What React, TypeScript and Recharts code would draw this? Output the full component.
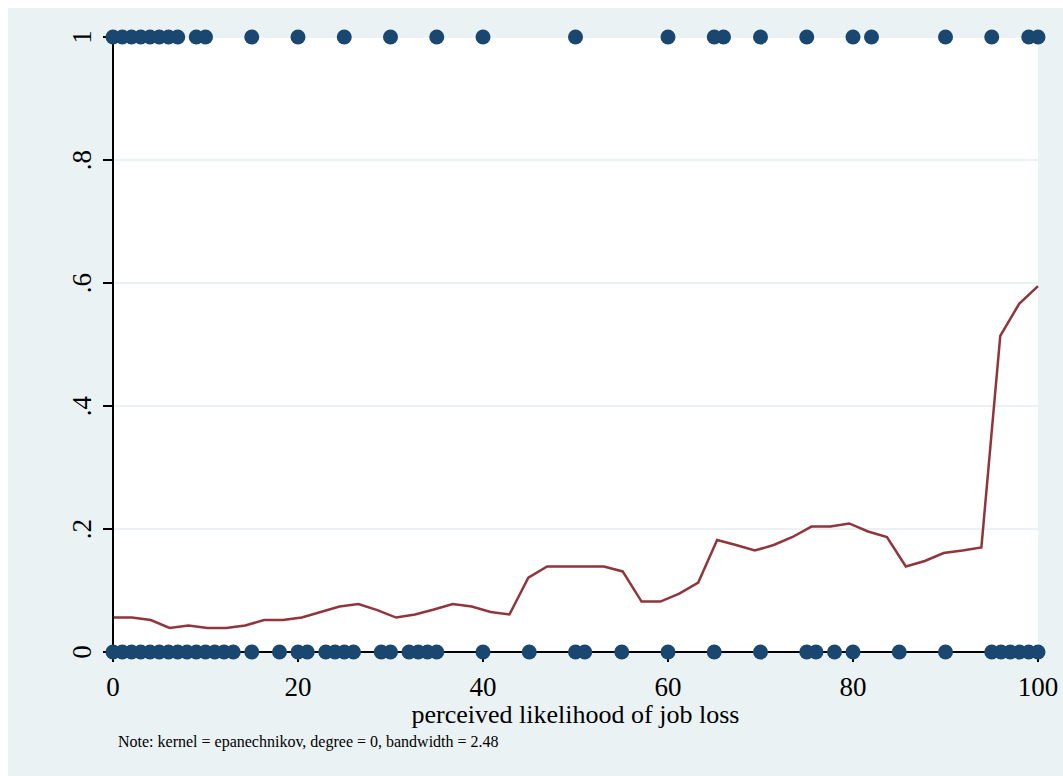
import React from "react";
import {
  ComposedChart,
  Line,
  Scatter,
  XAxis,
  YAxis,
  CartesianGrid,
  ReferenceLine,
} from "recharts";

// perceived likelihood values of respondents who lost their job (y = 1)
const lostJobX = [
  0, 1, 2, 3, 4, 5, 6, 7, 9, 10, 15, 20, 25, 30, 35, 40, 50, 60, 65, 66, 70,
  75, 80, 82, 90, 95, 99, 100,
];

// ... and of those who kept it (y = 0)
const keptJobX = [
  0, 1, 2, 3, 4, 5, 6, 7, 8, 9, 10, 11, 12, 13, 15, 18, 20, 21, 23, 24, 25,
  26, 29, 30, 32, 33, 34, 35, 40, 45, 50, 51, 55, 60, 65, 70, 75, 76, 78, 80,
  85, 90, 95, 96, 97, 98, 99, 100,
];

// lpoly grid points and smoothed values
const smoothX = [
  0, 2.04, 4.08, 6.12, 8.16, 10.2, 12.24, 14.29, 16.33, 18.37, 20.41, 22.45,
  24.49, 26.53, 28.57, 30.61, 32.65, 34.69, 36.73, 38.78, 40.82, 42.86, 44.9,
  46.94, 48.98, 51.02, 53.06, 55.1, 57.14, 59.18, 61.22, 63.27, 65.31, 67.35,
  69.39, 71.43, 73.47, 75.51, 77.55, 79.59, 81.63, 83.67, 85.71, 87.76, 89.8,
  91.84, 93.88, 95.92, 97.96, 100,
];
const smoothY = [
  0.056, 0.056, 0.052, 0.039, 0.043, 0.039, 0.039, 0.043, 0.052, 0.052,
  0.056, 0.065, 0.074, 0.078, 0.068, 0.056, 0.061, 0.069, 0.078, 0.074,
  0.065, 0.061, 0.121, 0.139, 0.139, 0.139, 0.139, 0.131, 0.082, 0.082,
  0.095, 0.113, 0.182, 0.174, 0.165, 0.174, 0.187, 0.204, 0.204, 0.209,
  0.196, 0.187, 0.139, 0.148, 0.161, 0.165, 0.17, 0.514, 0.566, 0.595,
];

const xTicks = [0, 20, 40, 60, 80, 100];
const yTicks = [0, 0.2, 0.4, 0.6, 0.8, 1];
const yTickLabels = ["0", ".2", ".4", ".6", ".8", "1"];

const lostData = lostJobX.map((x) => ({ x, y: 1 }));
const keptData = keptJobX.map((x) => ({ x, y: 0 }));
const smoothData = smoothX.map((x, i) => ({ x, y: smoothY[i] }));

const SERIF = "'Liberation Serif', 'Times New Roman', serif";
const BG = "#eaf2f3";

const YTick = (props: any) => {
  const { x, y, payload } = props;
  const label = yTickLabels[yTicks.indexOf(payload.value)] ?? String(payload.value);
  const bx = x - 12;
  return (
    <text
      x={bx}
      y={y}
      transform={`rotate(-90 ${bx} ${y})`}
      textAnchor="middle"
      fontFamily={SERIF}
      fontSize={27}
      fill="#000"
    >
      {label}
    </text>
  );
};

const XTick = (props: any) => {
  const { x, y, payload } = props;
  return (
    <text
      x={x}
      y={y + 34}
      textAnchor="middle"
      fontFamily={SERIF}
      fontSize={27}
      fill="#000"
    >
      {payload.value}
    </text>
  );
};

const Dot = (props: any) => {
  const { cx, cy } = props;
  return <circle cx={cx} cy={cy} r={7.5} fill="#1a476f" />;
};

export default function App() {
  return (
    <div
      style={{
        position: "absolute",
        left: 8,
        top: 8,
        width: 1055,
        height: 768,
        background: BG,
      }}
    >
      <style>{`html { overflow: hidden; } body { margin: 0; }`}</style>
      <ComposedChart
        width={1055}
        height={768}
        margin={{ top: 29, right: 25, left: 25, bottom: 53 }}
        style={{ overflow: "visible" }}
      >
        <CartesianGrid
          horizontal
          vertical={false}
          fill="#ffffff"
          stroke={BG}
          strokeWidth={2}
        />
        <XAxis
          type="number"
          dataKey="x"
          domain={[0, 100]}
          ticks={xTicks}
          height={71}
          tick={<XTick />}
          tickSize={10}
          tickMargin={0}
          axisLine={{ stroke: "#000", strokeWidth: 2 }}
          tickLine={{ stroke: "#000", strokeWidth: 2 }}
          label={{
            value: "perceived likelihood of job loss",
            position: "insideBottom",
            offset: 0,
            style: { fontFamily: SERIF, fontSize: 26, fill: "#000" },
          }}
        />
        <YAxis
          type="number"
          dataKey="y"
          domain={[0, 1]}
          ticks={yTicks}
          width={80}
          tick={<YTick />}
          tickSize={10}
          tickMargin={0}
          axisLine={{ stroke: "#000", strokeWidth: 2 }}
          tickLine={{ stroke: "#000", strokeWidth: 2 }}
        />
        <Line
          data={smoothData}
          dataKey="y"
          type="linear"
          stroke="#90353b"
          strokeWidth={2.5}
          dot={false}
          activeDot={false}
          isAnimationActive={false}
        />
        <Scatter
          data={lostData}
          dataKey="y"
          shape={<Dot />}
          isAnimationActive={false}
        />
        <Scatter
          data={keptData}
          dataKey="y"
          shape={<Dot />}
          isAnimationActive={false}
        />
        <ReferenceLine y={0} stroke="#000" strokeWidth={2} />
        <ReferenceLine x={0} stroke="#000" strokeWidth={2} />
      </ComposedChart>
      <div
        style={{
          position: "absolute",
          left: 110,
          top: 726,
          fontFamily: SERIF,
          fontSize: 16,
          lineHeight: "16px",
          color: "#000",
          whiteSpace: "nowrap",
        }}
      >
        Note: kernel = epanechnikov, degree = 0, bandwidth = 2.48
      </div>
    </div>
  );
}
